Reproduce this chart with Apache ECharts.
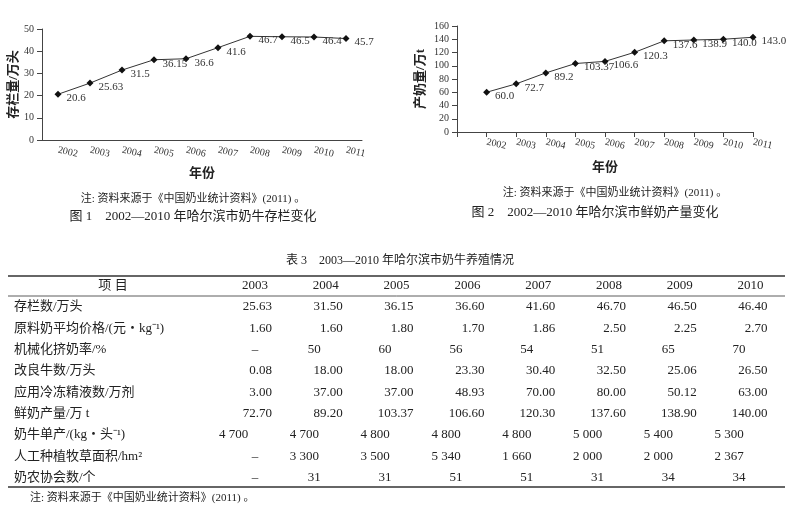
<!DOCTYPE html>
<html><head><meta charset="utf-8">
<script src="https://cdn.jsdelivr.net/npm/echarts@6/dist/echarts.min.js"></script>
<style>html,body{margin:0;background:#fff}#c{width:792px;height:512px}</style>
</head><body><div id="c"></div>
<script>
var F = 'Liberation Serif, Noto Sans CJK SC, serif';
// 图1 存栏量
var years1 = ['2002','2003','2004','2005','2006','2007','2008','2009','2010','2011'];
var stock = [20.6, 25.63, 31.5, 36.15, 36.6, 41.6, 46.7, 46.5, 46.4, 45.7];
var stockLabels = ['20.6','25.63','31.5','36.15','36.6','41.6','46.7','46.5','46.4','45.7'];
// 图2 鲜奶产量
var years2 = [2002,2003,2004,2005,2006,2007,2008,2009,2010,2011];
var milk = [60.0, 72.7, 89.2, 103.37, 106.6, 120.3, 137.6, 138.9, 140.0, 143.0];
var milkLabels = ['60.0','72.7','89.2','103.37','106.6','120.3','137.6','138.9','140.0','143.0'];
// 表3
var tableYears = ['2003','2004','2005','2006','2007','2008','2009','2010'];
var rowNames = ['存栏数/万头','原料奶平均价格/(元・kg⁻¹)','机械化挤奶率/%','改良牛数/万头','应用冷冻精液数/万剂','鲜奶产量/万 t','奶牛单产/(kg・头⁻¹)','人工种植牧草面积/hm²','奶农协会数/个'];
var rowStock  = ['25.63','31.50','36.15','36.60','41.60','46.70','46.50','46.40'];
var rowPrice  = ['1.60','1.60','1.80','1.70','1.86','2.50','2.25','2.70'];
var rowMech   = ['–','50','60','56','54','51','65','70'];
var rowImprov = ['0.08','18.00','18.00','23.30','30.40','32.50','25.06','26.50'];
var rowSemen  = ['3.00','37.00','37.00','48.93','70.00','80.00','50.12','63.00'];
var rowMilk   = ['72.70','89.20','103.37','106.60','120.30','137.60','138.90','140.00'];
var rowYield  = ['4 700','4 700','4 800','4 800','4 800','5 000','5 400','5 300'];
var rowGrass  = ['–','3 300','3 500','5 340','1 660','2 000','2 000','2 367'];
var rowAssoc  = ['–','31','31','51','51','31','34','34'];
var rows = [rowStock,rowPrice,rowMech,rowImprov,rowSemen,rowMilk,rowYield,rowGrass,rowAssoc];
var rowAlign = ['r','r','l','r','r','r','l','l','l'];

var g = [];
function txt(x,y,s,opt){
  opt = opt||{};
  g.push({type:'text',x:x,y:y,style:{text:s,fill:'#222',font:(opt.w||'normal')+' '+(opt.size||13)+'px '+F,
    align:opt.a||'left',verticalAlign:'middle'}});
}
function rule(y,w){ g.push({type:'line',shape:{x1:8,y1:y,x2:785,y2:y},style:{stroke:'#333',lineWidth:w}}); }

txt(193,199,'注: 资料来源于《中国奶业统计资料》(2011) 。',{a:'center',size:11});
txt(193,217,'图 1　2002—2010 年哈尔滨市奶牛存栏变化',{a:'center',size:13});
txt(615,193,'注: 资料来源于《中国奶业统计资料》(2011) 。',{a:'center',size:11});
txt(595,213,'图 2　2002—2010 年哈尔滨市鲜奶产量变化',{a:'center',size:13});
txt(400,261,'表 3　2003—2010 年哈尔滨市奶牛养殖情况',{a:'center',size:12});
rule(276,1.5); rule(296,0.8); rule(487,1.5);
txt(113,286,'项 目',{a:'center'});
tableYears.forEach(function(y,k){ txt(255+70.8*k,286,y,{a:'center'}); });
rowNames.forEach(function(n,i){
  var yy = 307 + 21.3*i;
  txt(14,yy,n,{});
  rows[i].forEach(function(v,k){
    if (v==='–') { txt(255+70.8*k,yy,v,{a:'center'}); return; }
    if (rowAlign[i]==='r') txt(272+70.8*k,yy,v,{a:'right'});
    else txt((v.length>3?219:237)+70.8*k,yy,v,{a:'left'});
  });
});
txt(30,498,'注: 资料来源于《中国奶业统计资料》(2011) 。',{size:11});

var axisLine = {lineStyle:{color:'#444',width:1}};
var chart = echarts.init(document.getElementById('c'));
chart.setOption({
  animation:false,
  textStyle:{fontFamily:F},
  grid:[{left:42,right:430,top:29,bottom:372},{left:457,right:39,top:26,bottom:380}],
  xAxis:[
    {type:'category',gridIndex:0,data:years1,boundaryGap:true,axisLine:axisLine,
     axisTick:{lineStyle:{color:'#444'}},axisLabel:{rotate:-12,color:'#333',fontSize:10,margin:10},
     name:'年份',nameLocation:'middle',nameGap:27,nameTextStyle:{fontWeight:'bold',fontSize:13,color:'#222'}},
    {type:'value',gridIndex:1,min:2001,max:2011,interval:1,axisLine:axisLine,splitLine:{show:false},
     axisTick:{lineStyle:{color:'#444'}},
     axisLabel:{rotate:-12,color:'#333',fontSize:10,margin:10,formatter:function(v){return v===2001?'':String(v);}},
     name:'年份',nameLocation:'middle',nameGap:29,nameTextStyle:{fontWeight:'bold',fontSize:13,color:'#222'}}
  ],
  yAxis:[
    {type:'value',gridIndex:0,min:0,max:50,interval:10,axisLine:{show:true,lineStyle:{color:'#444'}},
     axisTick:{show:true,lineStyle:{color:'#444'}},splitLine:{show:false},axisLabel:{color:'#333',fontSize:10},
     name:'存栏量/万头',nameLocation:'middle',nameGap:20,nameTextStyle:{fontWeight:'bold',fontSize:13,color:'#222'}},
    {type:'value',gridIndex:1,min:0,max:160,interval:20,axisLine:{show:true,lineStyle:{color:'#444'}},
     axisTick:{show:true,lineStyle:{color:'#444'}},splitLine:{show:false},axisLabel:{color:'#333',fontSize:10},
     name:'产奶量/万t',nameLocation:'middle',nameGap:30,nameTextStyle:{fontWeight:'bold',fontSize:13,color:'#222'}}
  ],
  series:[
    {type:'line',xAxisIndex:0,yAxisIndex:0,data:stock,symbol:'diamond',symbolSize:7,
     itemStyle:{color:'#111'},lineStyle:{color:'#333',width:1},
     label:{show:true,position:'right',offset:[0,4],fontSize:11,color:'#333',
       formatter:function(p){return stockLabels[p.dataIndex];}}},
    {type:'line',xAxisIndex:1,yAxisIndex:1,data:years2.map(function(y,i){return [y,milk[i]];}),
     symbol:'diamond',symbolSize:7,itemStyle:{color:'#111'},lineStyle:{color:'#333',width:1},
     label:{show:true,position:'right',offset:[0,4],fontSize:11,color:'#333',
       formatter:function(p){return milkLabels[p.dataIndex];}}}
  ],
  graphic:g
});
</script></body></html>
